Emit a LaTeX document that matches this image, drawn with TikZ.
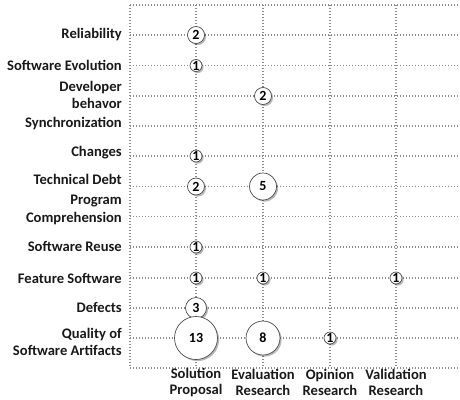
\documentclass[tikz,border=0pt]{standalone}
\usepackage{fontspec}
\setmainfont{Carlito}
\usetikzlibrary{shadows}
\begin{document}
\begin{tikzpicture}[x=1pt,y=-1pt,
  grid/.style={draw=black!45, line width=1.1pt, dash pattern=on 1.1pt off 1.9pt},
  rowlab/.style={anchor=east, align=right, font=\fontsize{14.6}{17.5}\selectfont\bfseries, text=black!90, inner sep=0pt},
  collab/.style={anchor=center, align=center, font=\fontsize{14.6}{16.5}\selectfont\bfseries, text=black!90, inner sep=0pt},
  bubble/.style={circle, draw=black!70, line width=0.7pt, fill=white, inner sep=0pt, minimum size=#1,
    drop shadow={shadow xshift=1.6pt, shadow yshift=-1.6pt, fill=black, opacity=0.28}},
  num/.style={font=\fontsize{14}{16}\selectfont\bfseries, text=black, inner sep=0pt}]
\useasboundingbox (0,0) rectangle (460,399);
% grid
\foreach \yy in {5,35,65.5,96,126,156,186.5,216.5,247,278,308,338,368}
  \draw[grid] (130,\yy) -- (460,\yy);
\foreach \xx in {130,196,263,330,396}
  \draw[grid] (\xx,5) -- (\xx,368);
% row labels
\node[rowlab] (l1) at (122,35) {Reliability};
\node[rowlab] (l2) at (122,65) {Software Evolution};
\node[rowlab] (l3) at (122,95) {Developer\\behavor};
\node[rowlab] (l4) at (122,124) {Synchronization};
\node[rowlab] (l5) at (122,153) {Changes};
\node[rowlab] (l6) at (122,179) {Technical Debt};
\node[rowlab] (l7) at (122,210) {Program\\Comprehension};
\node[rowlab] (l8) at (122,246) {Software Reuse};
\node[rowlab] (l9) at (122,278) {Feature Software};
\node[rowlab] (l10) at (122,307) {Defects};
\node[rowlab] (l11) at (122,342) {Quality of\\Software Artifacts};
% column labels
\node[collab] (c1) at (196,382.5) {Solution\\Proposal};
\node[collab] (c2) at (263,382.5) {Evaluation\\Research};
\node[collab] (c3) at (330,382.5) {Opinion\\Research};
\node[collab] (c4) at (396,382.5) {Validation\\Research};
% bubbles
\node[bubble=17pt] (b1) at (196,35) {};   \node[num] (n1) at (b1) {2};
\node[bubble=12pt] (b2) at (196,65.5) {}; \node[num] (n2) at (b2) {1};
\node[bubble=17pt] (b3) at (263,96) {};   \node[num] (n3) at (b3) {2};
\node[bubble=12pt] (b4) at (196,156) {};  \node[num] (n4) at (b4) {1};
\node[bubble=17pt] (b5) at (196,186.5) {};\node[num] (n5) at (b5) {2};
\node[bubble=27pt] (b6) at (263,186.5) {};\node[num] (n6) at (b6) {5};
\node[bubble=12pt] (b7) at (196,247) {};  \node[num] (n7) at (b7) {1};
\node[bubble=12pt] (b8) at (196,278) {};  \node[num] (n8) at (b8) {1};
\node[bubble=12pt] (b9) at (263,278) {};  \node[num] (n9) at (b9) {1};
\node[bubble=12pt] (b10) at (396,278) {}; \node[num] (n10) at (b10) {1};
\node[bubble=21pt] (b11) at (196,308) {}; \node[num] (n11) at (b11) {3};
\node[bubble=43pt] (b12) at (196,338) {}; \node[num] (n12) at (b12) {13};
\node[bubble=34pt] (b13) at (263,338) {}; \node[num] (n13) at (b13) {8};
\node[bubble=12pt] (b14) at (330,338) {}; \node[num] (n14) at (b14) {1};
\end{tikzpicture}
\end{document}
